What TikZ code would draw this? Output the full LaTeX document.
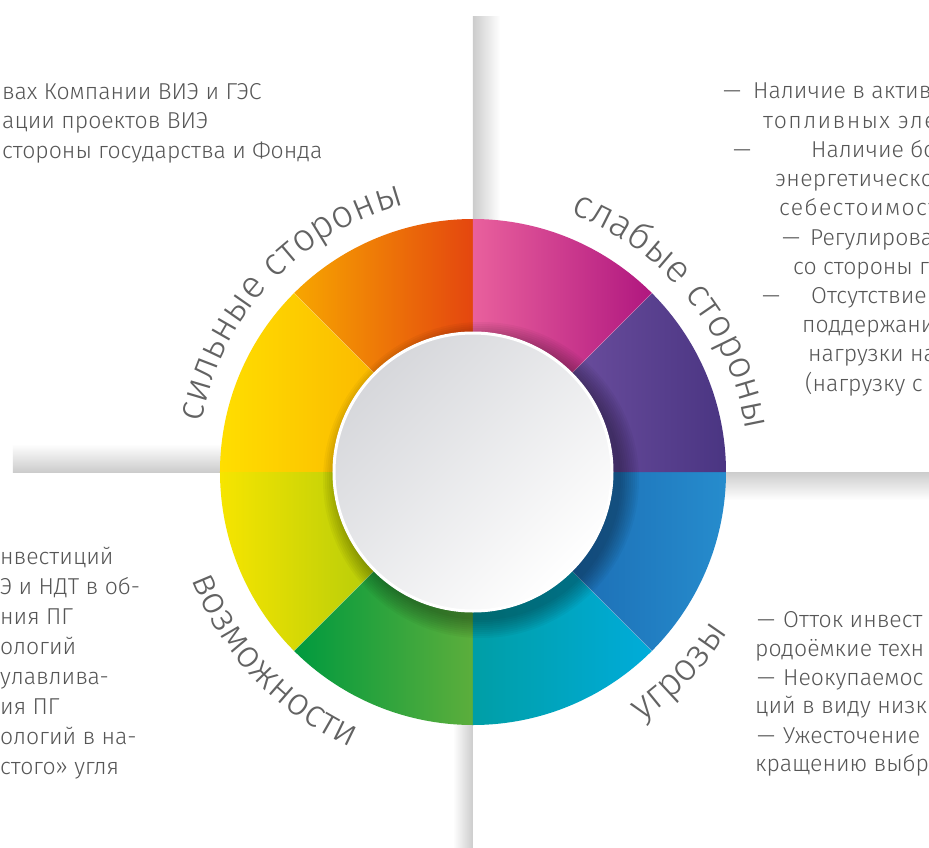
\documentclass[tikz,border=0pt]{standalone}
\usepackage{fontspec}
\setmainfont{Fira Sans}[UprightFont=* Light]
\usetikzlibrary{decorations.text}
\definecolor{ink}{RGB}{86,86,86}
\definecolor{labelink}{RGB}{98,98,98}
\definecolor{foldgray}{RGB}{204,204,204}
\definecolor{diskgray}{RGB}{214,215,219}
% ring colours, left / right end of each part
\definecolor{segAl}{RGB}{247,166,0}
\definecolor{segAr}{RGB}{228,70,15}
\definecolor{segBl}{RGB}{255,222,0}
\definecolor{segBr}{RGB}{251,185,0}
\definecolor{segCl}{RGB}{246,229,0}
\definecolor{segCr}{RGB}{181,204,10}
\definecolor{segDl}{RGB}{0,154,62}
\definecolor{segDr}{RGB}{92,174,60}
\definecolor{segEl}{RGB}{0,158,166}
\definecolor{segEr}{RGB}{0,172,218}
\definecolor{segFl}{RGB}{28,110,181}
\definecolor{segFr}{RGB}{38,140,205}
\definecolor{segGl}{RGB}{106,77,157}
\definecolor{segGr}{RGB}{74,53,130}
\definecolor{segHl}{RGB}{233,96,157}
\definecolor{segHr}{RGB}{176,23,127}
\newcommand\dashitem[2]{\rlap{—}\hspace*{#1}#2}
\newcommand\wideline[2]{{\addfontfeatures{LetterSpace=#1}#2}}

\begin{document}
\begin{tikzpicture}[x=1pt,y=1pt,
  bodytext/.style={anchor=base west,inner sep=0pt,text=ink,font=\fontsize{23}{27}\selectfont},
  arclabel/.style={decorate,decoration={text along path,text align=center,
    text color=labelink,text={|\fontsize{38.5}{44}\selectfont|#1}}}]
  \useasboundingbox (-473,-375) rectangle (456,472);
  \clip (-473,-375) rectangle (456,472);
  \fill[white] (-473,-375) rectangle (456,472);

  % fold shades
  \shade[left color=foldgray,right color=white] (0,455) rectangle (27,0);
  \shade[top color=white,bottom color=foldgray] (-460,28) rectangle (0,0);
  \shade[top color=foldgray,bottom color=white] (0,0) rectangle (456,-28);
  \shade[left color=white,right color=foldgray] (-20,0) rectangle (0,-375);

  % ring
  \foreach \a/\cl/\cr in {90/segAl/segAr,135/segBl/segBr,180/segCl/segCr,225/segDl/segDr,
                          270/segEl/segEr,315/segFl/segFr,0/segGl/segGr,45/segHl/segHr}
    \shade[left color=\cl,right color=\cr] (\a:253) arc[start angle=\a,delta angle=45,radius=253]
      -- (\a+45:136) arc[start angle=\a+45,delta angle=-45,radius=136] -- cycle;
  \foreach \a in {45,135,225,315}
    \draw[white,opacity=.3,line width=.6pt] (\a:138) -- (\a:253);

  % shadow of the disk
  \foreach \r in {0,2,...,18}
    \fill[black,opacity=.035] (8,-8) circle (140+\r);
  \shade[top color=diskgray,bottom color=white,shading angle=45] (0,0) circle (140);
  \draw[white,line width=3pt] (0,0) circle (139);

  % labels round the ring
  \path[arclabel=сильные стороны] (180:276) arc[start angle=180,end angle=94,radius=276];
  \path[arclabel=слабые стороны] (82:276) arc[start angle=82,end angle=-4,radius=276];
  \path[arclabel=возможности] (181:301) arc[start angle=181,end angle=266,radius=301];
  \path[arclabel=угрозы] (282:301) arc[start angle=282,end angle=350,radius=301];

  % strengths
  \node[bodytext] (s1) at (-471,372) {вах Компании ВИЭ и ГЭС};
  \node[bodytext] (s2) at (-471,343) {ации проектов ВИЭ};
  \node[bodytext] (s3) at (-471,314) {стороны государства и Фонда};

  % weaknesses
  \node[bodytext] (w1) at (250,373) {\dashitem{30pt}{Наличие в актив}};
  \node[bodytext] (w2) at (290,343.8) {\wideline{6}{топливных эле}};
  \node[bodytext] (w3) at (260,314.6) {\dashitem{78pt}{Наличие бо}};
  \node[bodytext] (w4) at (302,285.4) {\wideline{1.5}{энергетическо}};
  \node[bodytext] (w5) at (306,256.2) {\wideline{6}{себестоимост}};
  \node[bodytext] (w6) at (309,227) {\dashitem{28pt}{Регулирова}};
  \node[bodytext] (w7) at (320,197.8) {со стороны г};
  \node[bodytext] (w8) at (289,168.6) {\dashitem{49pt}{Отсутствие}};
  \node[bodytext] (w9) at (329,139.4) {поддержани};
  \node[bodytext] (w10) at (335,110.2) {нагрузки на};
  \node[bodytext] (w11) at (332,81) {(нагрузку с};

  % opportunities
  \node[bodytext] (o1) at (-473,-92) {нвестиций};
  \node[bodytext] (o2) at (-473,-122) {Э и НДТ в об-};
  \node[bodytext] (o3) at (-473,-152) {ния ПГ};
  \node[bodytext] (o4) at (-473,-182) {ологий};
  \node[bodytext] (o5) at (-473,-212) {улавлива-};
  \node[bodytext] (o6) at (-473,-242) {ия ПГ};
  \node[bodytext] (o7) at (-473,-272) {ологий в на-};
  \node[bodytext] (o8) at (-473,-302) {стого» угля};

  % threats
  \node[bodytext] (t1) at (284,-155) {\dashitem{26pt}{Отток инвест}};
  \node[bodytext] (t2) at (282,-184) {родоёмкие техн};
  \node[bodytext] (t3) at (284,-213) {\dashitem{26pt}{Неокупаемос}};
  \node[bodytext] (t4) at (282,-241) {ций в виду низк};
  \node[bodytext] (t5) at (284,-271) {\dashitem{26pt}{Ужесточение}};
  \node[bodytext] (t6) at (282,-299) {кращению выбр};
\end{tikzpicture}
\end{document}
